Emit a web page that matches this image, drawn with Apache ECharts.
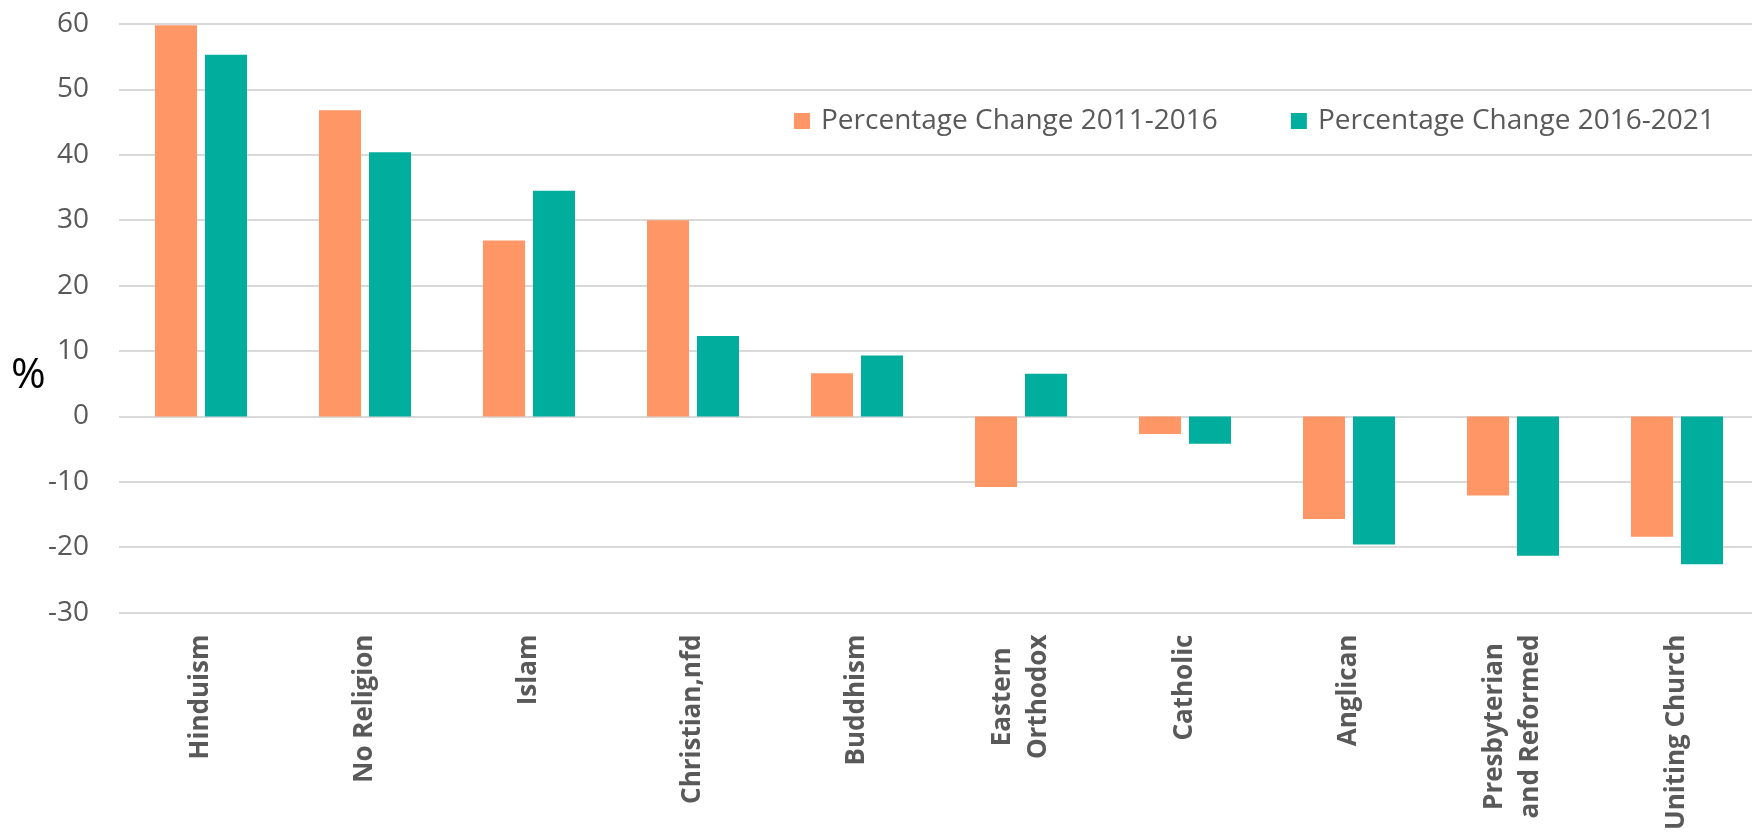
<!DOCTYPE html>
<html>
<head>
<meta charset="utf-8">
<script src="https://cdn.jsdelivr.net/npm/echarts@6/dist/echarts.min.js"></script>
<style>
  html, body { margin: 0; padding: 0; background: #fff; overflow: hidden; }
  #chart { width: 1760px; height: 833px; }
</style>
</head>
<body>
<div id="chart"></div>
<script>
const categories = ['Hinduism', 'No Religion', 'Islam', 'Christian,nfd', 'Buddhism',
  'Eastern\nOrthodox', 'Catholic', 'Anglican', 'Presbyterian\nand Reformed', 'Uniting Church']
const change2011 = [59.8, 46.8, 26.9, 30.0, 6.6, -10.8, -2.7, -15.7, -12.1, -18.4]
const change2016 = [55.3, 40.4, 34.5, 12.3, 9.3, 6.5, -4.2, -19.6, -21.3, -22.6]
const seriesNames = ['Percentage Change 2011-2016', 'Percentage Change 2016-2021']

// the plot area runs a few px past the right edge of the window, like the original
const chart = echarts.init(document.getElementById('chart'))
const option = {
  animation: false,
  color: ['#FE9666', '#01AE9D'],
  grid: {
    left: 119,
    top: 24,
    width: 1640,
    bottom: 219
  },
  legend: {
    data: seriesNames,
    left: 794,
    top: 107,
    padding: 0,
    itemWidth: 16,
    itemHeight: 16,
    itemGap: 73,
    icon: 'rect',
    textStyle: {
      fontFamily: 'Open Sans',
      fontSize: 28,
      color: '#595959',
      padding: [0, 0, 0, 6]
    }
  },
  graphic: [{
    type: 'text',
    x: 11,
    y: 376,
    style: {
      text: '%',
      fontFamily: 'Open Sans',
      fontSize: 42,
      fill: '#000',
      verticalAlign: 'middle'
    }
  }],
  xAxis: {
    type: 'category',
    data: categories,
    axisLine: { show: false },
    axisTick: { show: false },
    axisLabel: {
      interval: 0,
      rotate: 90,
      margin: 22,
      formatter: function (v) {
        return v.split('\n').map(s => '{c|' + s + '}').join('\n')
      },
      rich: {
        c: {
          fontFamily: 'Open Sans',
          fontWeight: 'bold',
          fontSize: 26,
          color: '#595959',
          lineHeight: 36,
          align: 'center'
        }
      }
    }
  },
  yAxis: {
    type: 'value',
    min: -30,
    max: 60,
    interval: 10,
    axisLine: { show: false },
    axisTick: { show: false },
    axisLabel: {
      margin: 30,
      fontFamily: 'Open Sans',
      fontSize: 28,
      color: '#595959'
    },
    splitLine: {
      lineStyle: { color: '#D9D9D9', width: 2 }
    }
  },
  series: [
    {
      name: seriesNames[0],
      type: 'bar',
      data: change2011,
      barWidth: 42,
      barGap: '19%'
    },
    {
      name: seriesNames[1],
      type: 'bar',
      data: change2016,
      barWidth: 42,
      barGap: '19%'
    }
  ]
}
chart.setOption(option)
</script>
</body>
</html>
